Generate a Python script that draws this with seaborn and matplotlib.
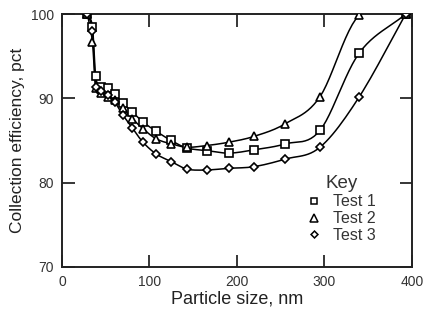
import numpy as np
import pandas as pd
import matplotlib
matplotlib.use("Agg")
import matplotlib.pyplot as plt
import seaborn as sns
from matplotlib.lines import Line2D

sns.set_theme(style="ticks")
plt.rcParams["font.family"] = ["Liberation Sans", "DejaVu Sans"]

# Particle sizes (nm) shared by all three tests
particle_size = [29, 34.7, 38.5, 44, 52, 60, 69.7, 80.3, 92.5, 107.6, 124.7,
                 143, 165.4, 191, 220, 255.5, 295, 340, 393]

# Collection efficiency (pct) per test
test1 = [100, 98.5, 92.6, 91.3, 91.2, 90.5, 89.4, 88.4, 87.2, 86.1, 85.0,
         84.1, 83.8, 83.5, 83.9, 84.6, 86.2, 95.4, 100]
test2 = [100, 96.7, 91.2, 90.6, 90.2, 89.8, 88.8, 87.6, 86.4, 85.2, 84.6,
         84.2, 84.4, 84.8, 85.5, 87.0, 90.2, 99.9, 100]
test3 = [100, 98.0, 91.4, 90.9, 90.4, 89.6, 88.0, 86.5, 84.8, 83.4, 82.5,
         81.6, 81.5, 81.7, 81.9, 82.8, 84.2, 90.2, 100]

series = {"Test 1": test1, "Test 2": test2, "Test 3": test3}
markers = {"Test 1": "s", "Test 2": "^", "Test 3": "D"}
msizes = {"Test 1": 5.8, "Test 2": 6.4, "Test 3": 4.3}

x_ticks = [0, 100, 200, 300, 400]
y_ticks = [70, 80, 90, 100]


def smooth_curve(x, y, n=12):
    """Catmull-Rom spline through the measured points, for a smooth trace."""
    x = np.asarray(x, float)
    y = np.asarray(y, float)
    px = np.concatenate([[2 * x[0] - x[1]], x, [2 * x[-1] - x[-2]]])
    py = np.concatenate([[2 * y[0] - y[1]], y, [2 * y[-1] - y[-2]]])
    xs, ys = [], []
    t = np.linspace(0, 1, n, endpoint=False)
    for i in range(1, len(px) - 2):
        for arr, out in ((px, xs), (py, ys)):
            p0, p1, p2, p3 = arr[i - 1], arr[i], arr[i + 1], arr[i + 2]
            out.extend(0.5 * ((2 * p1) + (-p0 + p2) * t
                              + (2 * p0 - 5 * p1 + 4 * p2 - p3) * t ** 2
                              + (-p0 + 3 * p1 - 3 * p2 + p3) * t ** 3))
    xs.append(x[-1])
    ys.append(y[-1])
    return np.array(xs), np.array(ys)


fig = plt.figure(figsize=(4.25, 3.2), dpi=100)
ax = fig.add_axes([0.146, 0.166, 0.823, 0.79])

rows = []
for name, vals in series.items():
    for xv, yv in zip(particle_size, vals):
        rows.append({"size": xv, "eff": yv, "test": name})
df = pd.DataFrame(rows)

for name, vals in series.items():
    sx, sy = smooth_curve(particle_size, vals)
    sns.lineplot(x=sx, y=sy, ax=ax, color="black", lw=1.1, sort=False,
                 estimator=None, zorder=2)
for name in series:
    sub = df[df["test"] == name]
    ax.plot(sub["size"], sub["eff"], linestyle="none", marker=markers[name],
            ms=msizes[name], mfc="white", mec="black", mew=1.2, zorder=3)

ax.set_xlim(0, 400)
ax.set_ylim(70, 100)
ax.set_xticks(x_ticks)
ax.set_yticks(y_ticks)
ax.tick_params(direction="in", length=9, width=1.3, top=True, right=True,
               labelsize=10, labelcolor="#333333", pad=6)
for sp in ax.spines.values():
    sp.set_linewidth(1.4)
    sp.set_visible(True)
    sp.set_color("#222222")

ax.set_xlabel("Particle size, nm", fontsize=13, color="#222222", labelpad=1)
ax.set_ylabel("Collection efficiency, pct", fontsize=12.5, color="#222222",
              labelpad=4)

handles = [Line2D([], [], linestyle="none", marker=markers[n], ms=msizes[n] - 0.8,
                  mfc="white", mec="black", mew=1.1) for n in series]
leg = ax.legend(handles, list(series), title="Key", loc="lower right",
                bbox_to_anchor=(0.93, 0.05), frameon=False, fontsize=11.5,
                title_fontsize=13.5, handlelength=0.8, handletextpad=0.8,
                labelspacing=0.12, borderpad=0.2)
for t in leg.get_texts():
    t.set_color("#333333")
leg.get_title().set_color("#333333")

fig.savefig("out.png", dpi=100, facecolor="white")
